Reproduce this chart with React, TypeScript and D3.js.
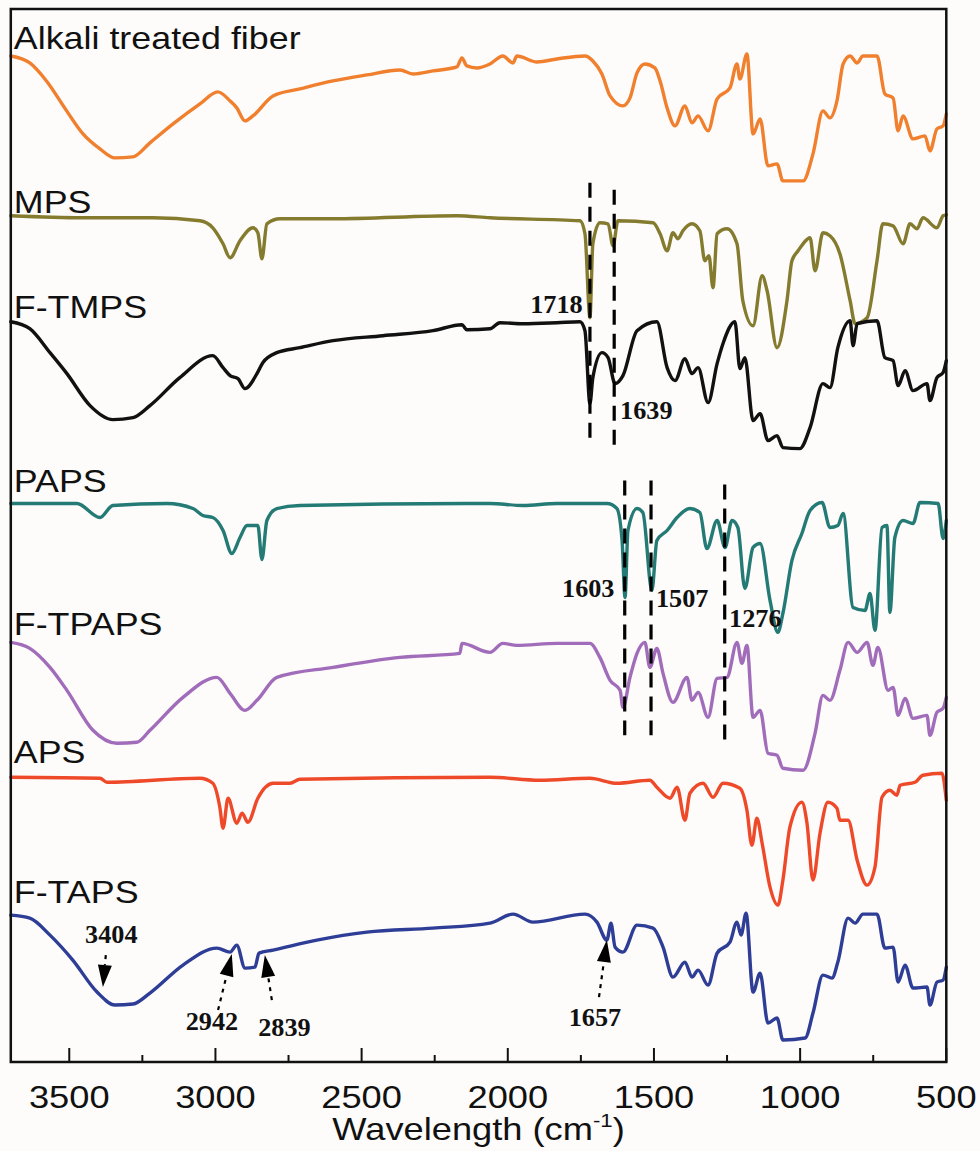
import React from "react";
import * as d3 from "d3";

const WIDTH = 980;
const HEIGHT = 1151;
const MARGIN = { left: 10.8, right: 33.7, top: 9, bottom: 89 };

// FTIR spectra, [wavenumber (cm-1), intensity (a.u., stacked)]
const SERIES_NAMES = ["Alkali treated fiber", "MPS", "F-TMPS", "PAPS", "F-TPAPS", "APS", "F-TAPS"];

const alkali: [number, number][] = [
  [3700, 1007], [3635, 1000], [3578, 982], [3509, 952], [3453, 929], [3395, 914], [3344, 905], [3282, 906],
  [3224, 920], [3145, 939], [3053, 959], [2992, 971], [2950, 962], [2927, 955], [2899, 942], [2872, 947],
  [2803, 967], [2711, 974], [2598, 982], [2482, 988], [2369, 993], [2324, 989], [2256, 992], [2174, 996],
  [2157, 1005], [2140, 997], [2106, 995], [2061, 999], [2017, 1007], [1982, 1000], [1969, 1007], [1900, 1001],
  [1832, 1004], [1736, 1007], [1709, 1002], [1678, 989], [1650, 967], [1606, 957], [1582, 965], [1558, 990],
  [1531, 999], [1497, 995], [1479, 982], [1455, 955], [1428, 937], [1394, 957], [1370, 940], [1349, 947],
  [1315, 932], [1284, 964], [1240, 975], [1216, 999], [1206, 984], [1182, 1009], [1161, 929], [1137, 944],
  [1110, 897], [1079, 899], [1059, 882], [990, 882], [956, 909], [922, 952], [898, 945], [874, 962],
  [853, 999], [829, 1007], [805, 1000], [785, 1007], [737, 1007], [710, 969], [682, 965], [665, 932],
  [648, 947], [614, 924], [573, 927], [556, 912], [532, 934], [511, 937], [500, 949],
];

const mps: [number, number][] = [
  [3700, 847], [3453, 845], [3214, 845], [3053, 842], [3009, 835], [2974, 819], [2950, 805], [2916, 822],
  [2872, 835], [2855, 830], [2841, 804], [2824, 839], [2779, 844], [2598, 844], [2174, 847], [2061, 845],
  [1753, 842], [1736, 829], [1719, 745], [1709, 819], [1685, 840], [1657, 839], [1640, 817], [1623, 842],
  [1503, 840], [1479, 829], [1455, 812], [1435, 830], [1418, 824], [1401, 832], [1370, 839], [1343, 832],
  [1326, 802], [1312, 807], [1298, 775], [1284, 829], [1250, 834], [1216, 819], [1196, 762], [1161, 737],
  [1130, 787], [1113, 772], [1079, 715], [1045, 762], [1028, 802], [1007, 812], [990, 819], [966, 825],
  [949, 792], [922, 830], [898, 827], [864, 809], [829, 762], [812, 739], [771, 745], [737, 802],
  [717, 839], [682, 837], [648, 819], [624, 839], [600, 834], [580, 845], [532, 835], [511, 847], [500, 848],
];

const ftmps: [number, number][] = [
  [3700, 741], [3635, 734], [3566, 710], [3508, 689], [3429, 657], [3351, 643], [3282, 645], [3224, 657],
  [3122, 685], [3009, 707], [2974, 695], [2950, 687], [2923, 684], [2899, 674], [2858, 689], [2838, 700],
  [2790, 710], [2711, 715], [2598, 722], [2427, 727], [2256, 732], [2157, 738], [2140, 733], [2061, 734],
  [2027, 740], [1948, 739], [1832, 740], [1753, 741], [1736, 732], [1719, 659], [1709, 685], [1678, 710],
  [1657, 705], [1633, 679], [1606, 687], [1558, 732], [1490, 741], [1455, 695], [1428, 682], [1394, 704],
  [1370, 689], [1349, 695], [1315, 660], [1284, 699], [1264, 719], [1223, 741], [1206, 694], [1189, 705],
  [1161, 642], [1137, 649], [1110, 622], [1079, 627], [1059, 615], [1001, 614], [966, 635], [922, 679],
  [898, 675], [871, 715], [829, 742], [819, 717], [805, 739], [737, 742], [710, 705], [682, 702],
  [665, 677], [641, 692], [614, 672], [566, 679], [556, 662], [532, 685], [511, 690], [500, 702],
];

const paps: [number, number][] = [
  [3700, 559], [3474, 559], [3395, 545], [3351, 557], [3166, 559], [3077, 554], [3043, 547], [3009, 545],
  [2974, 532], [2944, 509], [2916, 525], [2892, 537], [2855, 537], [2841, 503], [2824, 542], [2790, 554],
  [2711, 557], [2140, 559], [2061, 559], [1948, 557], [1832, 559], [1661, 559], [1627, 554], [1609, 522],
  [1599, 465], [1589, 532], [1558, 554], [1538, 550], [1507, 472], [1490, 522], [1455, 532], [1421, 545],
  [1377, 554], [1343, 550], [1319, 514], [1284, 542], [1257, 515], [1233, 542], [1213, 535], [1189, 474],
  [1161, 515], [1137, 519], [1103, 462], [1076, 430], [1059, 449], [1028, 502], [994, 529], [966, 552],
  [925, 560], [898, 535], [871, 537], [853, 549], [819, 455], [778, 452], [761, 469], [744, 432],
  [720, 535], [703, 537], [693, 450], [676, 525], [648, 542], [614, 539], [590, 560], [528, 559],
  [511, 524], [500, 542],
];

const ftpaps: [number, number][] = [
  [3700, 420], [3635, 414], [3566, 395], [3508, 372], [3419, 332], [3337, 319], [3269, 320], [3224, 332],
  [3111, 365], [2995, 385], [2950, 369], [2899, 352], [2858, 362], [2790, 385], [2598, 395], [2369, 405],
  [2164, 409], [2157, 419], [2061, 410], [2017, 419], [1969, 417], [1832, 419], [1719, 419], [1685, 405],
  [1650, 382], [1616, 372], [1606, 355], [1582, 385], [1558, 409], [1531, 420], [1514, 395], [1490, 414],
  [1469, 389], [1435, 360], [1387, 385], [1370, 362], [1349, 370], [1315, 345], [1284, 384], [1250, 385],
  [1216, 420], [1199, 399], [1182, 417], [1161, 345], [1137, 352], [1110, 309], [1079, 307], [1059, 294],
  [990, 292], [949, 329], [922, 367], [898, 362], [864, 392], [836, 420], [805, 410], [771, 420],
  [751, 397], [734, 415], [699, 372], [682, 375], [665, 347], [641, 364], [614, 344], [566, 347],
  [556, 327], [532, 350], [511, 354], [500, 365],
];

const aps: [number, number][] = [
  [3700, 285], [3395, 284], [3371, 280], [3053, 284], [3009, 279], [2985, 255], [2974, 234], [2957, 264],
  [2927, 239], [2909, 249], [2889, 240], [2855, 264], [2803, 279], [2745, 279], [2711, 283], [2061, 285],
  [1890, 282], [1719, 284], [1627, 279], [1514, 282], [1490, 275], [1445, 264], [1421, 275], [1394, 242],
  [1377, 269], [1332, 279], [1298, 265], [1264, 279], [1206, 274], [1182, 252], [1165, 217], [1148, 244],
  [1130, 219], [1103, 175], [1076, 157], [1059, 182], [1035, 235], [994, 260], [977, 240], [956, 182],
  [932, 229], [905, 260], [874, 254], [864, 242], [836, 242], [805, 202], [771, 177], [744, 195],
  [720, 265], [693, 272], [669, 267], [658, 277], [607, 280], [580, 287], [515, 289], [500, 262],
];

const ftaps: [number, number][] = [
  [3700, 147], [3635, 144], [3566, 127], [3488, 102], [3405, 70], [3344, 57], [3282, 58], [3224, 69],
  [3111, 97], [2995, 114], [2950, 110], [2927, 117], [2899, 94], [2865, 95], [2851, 109], [2803, 112],
  [2653, 122], [2482, 130], [2256, 134], [2061, 139], [1982, 148], [1914, 140], [1736, 148], [1695, 140],
  [1661, 122], [1647, 139], [1633, 115], [1606, 110], [1558, 137], [1503, 134], [1469, 115], [1435, 85],
  [1394, 100], [1370, 85], [1349, 92], [1315, 77], [1284, 109], [1240, 120], [1216, 140], [1202, 127],
  [1185, 149], [1161, 70], [1137, 89], [1110, 39], [1079, 44], [1059, 22], [983, 24], [956, 49],
  [922, 87], [891, 84], [871, 100], [836, 144], [812, 139], [785, 148], [737, 148], [710, 114],
  [682, 115], [665, 80], [641, 97], [614, 74], [566, 75], [556, 57], [532, 80], [511, 82], [500, 95],
];

const SPECTRA = [alkali, mps, ftmps, paps, ftpaps, aps, ftaps];
const COLORS = ["#F07F2E", "#857B2F", "#111111", "#247A74", "#A16DBA", "#EE4A2A", "#2E3D96"];

const X_TICKS = [3500, 3000, 2500, 2000, 1500, 1000, 500];
const X_MINOR = [3250, 2750, 2250, 1750, 1250, 750];

// dashed guide lines: [wavenumber, from, to]
const GUIDES: [number, number, number][] = [
  [1719, 880, 624], [1636, 873, 617], [1600, 582, 327], [1510, 582, 327], [1258, 578, 322],
];

// peak labels: [text, wavenumber, intensity, anchor]
const PEAK_LABELS: [string, number, number, string][] = [
  ["1718", 1744, 750, "end"], ["1639", 1616, 644, "start"], ["1603", 1635, 465, "end"],
  ["1507", 1493, 455, "start"], ["1276", 1243, 435, "start"], ["3404", 3356, 119, "middle"],
  ["2942", 3012, 32, "middle"], ["2839", 2764, 26, "middle"], ["1657", 1702, 36, "middle"],
];

// arrows: [tail wn, tail int, tip wn, tip int]
const ARROWS: [number, number, number, number][] = [
  [3375, 107, 3385, 75], [2991, 52, 2944, 108], [2807, 62, 2831, 107], [1688, 65, 1661, 122],
];

// name label anchor intensities
const NAME_Y = [1014, 850, 745, 571, 427, 299, 159];

export default function App() {
  const x = d3.scaleLinear().domain([3700, 500]).range([MARGIN.left, WIDTH - MARGIN.right]);
  const y = d3.scaleLinear().domain([0, 1054]).range([HEIGHT - MARGIN.bottom, MARGIN.top]);
  const line = d3.line<[number, number]>().x(d => x(d[0])).y(d => y(d[1])).curve(d3.curveMonotoneX);
  const y0 = HEIGHT - MARGIN.bottom;
  const sans = "'Liberation Sans', Arial, Helvetica, sans-serif";
  const serif = "'Liberation Serif', 'Times New Roman', serif";

  const arrowShapes = ARROWS.map(a => {
    const tx = x(a[0]), ty = y(a[1]), hx = x(a[2]), hy = y(a[3]);
    const len = Math.hypot(hx - tx, hy - ty);
    const ux = (hx - tx) / len, uy = (hy - ty) / len;
    const headL = 22, headW = 7;
    const bx = hx - ux * headL, by = hy - uy * headL;
    const poly = [[hx, hy], [bx - uy * headW, by + ux * headW], [bx + uy * headW, by - ux * headW]];
    return { tx, ty, bx, by, poly: poly.map(p => p.join(",")).join(" ") };
  });

  return (
    <div style={{ position: "absolute", left: 0, top: 0 }}>
      <svg width={WIDTH} height={HEIGHT} style={{ display: "block", background: "#fdfcfb" }}>
        {SPECTRA.map((s, i) => (
          <path key={i} d={line(s) || ""} fill="none" stroke={COLORS[i]} strokeWidth={3.4}
            strokeLinejoin="round" strokeLinecap="round" />
        ))}
        {GUIDES.map((g, i) => (
          <line key={i} x1={x(g[0])} x2={x(g[0])} y1={y(g[1])} y2={y(g[2])}
            stroke="#000" strokeWidth={3.2} strokeDasharray="15,9" />
        ))}
        {arrowShapes.map((a, i) => (
          <g key={i}>
            <line x1={a.tx} y1={a.ty} x2={a.bx} y2={a.by} stroke="#000" strokeWidth={2.2} strokeDasharray="4,5" />
            <polygon points={a.poly} fill="#000" />
          </g>
        ))}
        {PEAK_LABELS.map((p, i) => (
          <text key={i} transform={`translate(${x(p[1])},${y(p[2])}) scale(1.05,1)`} textAnchor={p[3]}
            fontFamily={serif} fontWeight="bold" fontSize={25} fill="#111">{p[0]}</text>
        ))}
        {SERIES_NAMES.map((n, i) => (
          <text key={n} transform={`translate(${MARGIN.left + 3},${y(NAME_Y[i])}) scale(1.12,1)`}
            fontFamily={sans} fontSize={32} fill="#111">{n}</text>
        ))}
        <rect x={MARGIN.left} y={MARGIN.top} width={WIDTH - MARGIN.left - MARGIN.right}
          height={HEIGHT - MARGIN.top - MARGIN.bottom} fill="none" stroke="#111" strokeWidth={2.5} />
        {X_TICKS.map(t => (
          <g key={t}>
            <line x1={x(t)} x2={x(t)} y1={y0} y2={y0 - 14} stroke="#111" strokeWidth={2} />
            <text transform={`translate(${x(t)},${y0 + 46}) scale(1.17,1)`} textAnchor="middle"
              fontFamily={sans} fontSize={31} fill="#111">{t}</text>
          </g>
        ))}
        {X_MINOR.map(t => (
          <line key={t} x1={x(t)} x2={x(t)} y1={y0} y2={y0 - 7} stroke="#111" strokeWidth={2} />
        ))}
        <text transform={`translate(${(MARGIN.left + WIDTH - MARGIN.right) / 2},${y0 + 78}) scale(1.17,1)`}
          textAnchor="middle" fontFamily={sans} fontSize={31} fill="#111">
          Wavelength (cm<tspan fontSize={19} dy={-13}>-1</tspan><tspan dy={13}>)</tspan>
        </text>
      </svg>
    </div>
  );
}
